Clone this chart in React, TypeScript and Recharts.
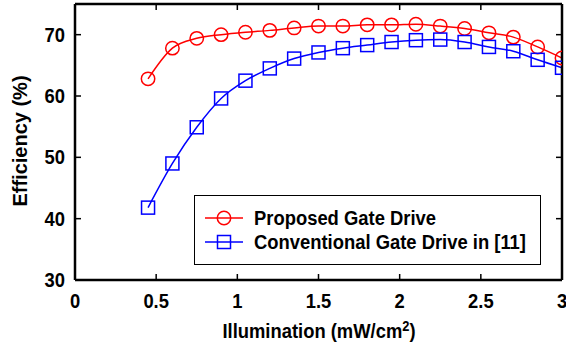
import React from "react"
import { LineChart, Line, XAxis, YAxis } from "recharts"

const illumination = [0.45, 0.6, 0.75, 0.9, 1.05, 1.2, 1.35, 1.5, 1.65, 1.8, 1.95, 2.1, 2.25, 2.4, 2.55, 2.7, 2.85, 3.0]
const proposed = [62.8, 67.8, 69.4, 70.0, 70.4, 70.7, 71.1, 71.4, 71.4, 71.6, 71.6, 71.7, 71.4, 71.0, 70.3, 69.6, 68.0, 66.2]
const conventional = [41.8, 49.0, 54.9, 59.6, 62.5, 64.5, 66.1, 67.1, 67.8, 68.3, 68.8, 69.1, 69.2, 68.8, 68.0, 67.3, 65.9, 64.6]
const xTicks = [0, 0.5, 1, 1.5, 2, 2.5, 3]
const yTicks = [30, 40, 50, 60, 70]

const data = illumination.map((x, i) => ({ x, proposed: proposed[i], conventional: conventional[i] }))

const FONT = "'Liberation Sans', Arial, sans-serif"
const RED = "#ff0000"
const BLUE = "#0000ff"
// the reference text looks a bit condensed horizontally
const SX = 0.92

// bold text squeezed horizontally around its anchor
const SqText = ({ x, y, anchor, size = 20, children }: any) => (
  <text
    transform={`translate(${x},${y}) scale(${SX},1)`}
    textAnchor={anchor}
    fontFamily={FONT}
    fontWeight="bold"
    fontSize={size}
    fill="#000"
  >
    {children}
  </text>
)

const BottomTick = (props: any) => {
  const { x, y, payload } = props
  return (
    <g>
      <line x1={x} y1={y} x2={x} y2={y - 6} stroke="#000" strokeWidth={1.5} />
      <SqText x={x} y={y + 28} anchor="middle">{payload.value}</SqText>
    </g>
  )
}

const TopTick = (props: any) => {
  const { x, y } = props
  return <line x1={x} y1={y} x2={x} y2={y + 6} stroke="#000" strokeWidth={1.5} />
}

const LeftTick = (props: any) => {
  const { x, y, payload } = props
  return (
    <g>
      <line x1={x} y1={y} x2={x + 6} y2={y} stroke="#000" strokeWidth={1.5} />
      <SqText x={x - 10} y={y + 7} anchor="end">{payload.value}</SqText>
    </g>
  )
}

const RightTick = (props: any) => {
  const { x, y } = props
  return <line x1={x} y1={y} x2={x - 6} y2={y} stroke="#000" strokeWidth={1.5} />
}

const Square = (props: any) => {
  const { cx, cy } = props
  if (cx == null || cy == null) return null
  return <rect x={cx - 6.5} y={cy - 6.5} width={13} height={13} fill="none" stroke={BLUE} strokeWidth={1.5} />
}

const Circle = (props: any) => {
  const { cx, cy } = props
  if (cx == null || cy == null) return null
  return <circle cx={cx} cy={cy} r={6.7} fill="none" stroke={RED} strokeWidth={1.5} />
}

const legendItems = [
  { label: "Proposed Gate Drive", color: RED, shape: "circle" },
  { label: "Conventional Gate Drive in [11]", color: BLUE, shape: "square" },
]

const LegendBox = () => (
  <div
    style={{
      position: "absolute",
      left: 194,
      top: 195,
      width: 347,
      height: 70,
      border: "1.5px solid #000",
      background: "#fff",
      boxSizing: "border-box",
      fontFamily: FONT,
      fontWeight: "bold",
      fontSize: 20,
      lineHeight: "22px",
    }}
  >
    {legendItems.map((item, i) => (
      <div key={item.label} style={{ position: "absolute", left: 9, top: 11 + i * 24, height: 22, display: "flex", alignItems: "center" }}>
        <svg width={40} height={22}>
          <line x1={1} y1={11} x2={39} y2={11} stroke={item.color} strokeWidth={1.5} />
          {item.shape === "circle" ? (
            <circle cx={20} cy={11} r={6.7} fill="none" stroke={item.color} strokeWidth={1.5} />
          ) : (
            <rect x={13.5} y={4.5} width={13} height={13} fill="none" stroke={item.color} strokeWidth={1.5} />
          )}
        </svg>
        <span
          style={{
            marginLeft: 10,
            whiteSpace: "nowrap",
            display: "inline-block",
            transform: `scaleX(${SX})`,
            transformOrigin: "left center",
          }}
        >
          {item.label}
        </span>
      </div>
    ))}
  </div>
)

export default function App() {
  return (
    <div style={{ position: "absolute", left: 0, top: 0, width: 566, height: 348, background: "#fff" }}>
      <LineChart width={566} height={348} data={data} margin={{ top: 3, right: 3, bottom: 67, left: 74 }}>
        <XAxis
          dataKey="x"
          type="number"
          domain={[0, 3]}
          ticks={xTicks}
          height={1}
          tickSize={0}
          tickMargin={0}
          tick={<BottomTick />}
          axisLine={{ stroke: "#000", strokeWidth: 2.5 }}
          allowDataOverflow
        />
        <XAxis
          xAxisId="top"
          orientation="top"
          dataKey="x"
          type="number"
          domain={[0, 3]}
          ticks={xTicks}
          height={1}
          tickSize={0}
          tickMargin={0}
          tick={<TopTick />}
          axisLine={{ stroke: "#000", strokeWidth: 2.5 }}
          allowDataOverflow
        />
        <YAxis
          type="number"
          domain={[30, 75]}
          ticks={yTicks}
          width={1}
          tickSize={0}
          tickMargin={0}
          tick={<LeftTick />}
          axisLine={{ stroke: "#000", strokeWidth: 2.5 }}
          allowDataOverflow
        />
        <YAxis
          yAxisId="right"
          orientation="right"
          type="number"
          domain={[30, 75]}
          ticks={yTicks}
          width={1}
          tickSize={0}
          tickMargin={0}
          tick={<RightTick />}
          axisLine={{ stroke: "#000", strokeWidth: 2.5 }}
          allowDataOverflow
        />
        <Line
          type="monotone"
          dataKey="proposed"
          stroke={RED}
          strokeWidth={1.5}
          dot={<Circle />}
          isAnimationActive={false}
        />
        <Line
          type="monotone"
          dataKey="conventional"
          stroke={BLUE}
          strokeWidth={1.5}
          dot={<Square />}
          isAnimationActive={false}
        />
        <text
          x={20}
          y={141}
          transform="rotate(-90 20 141)"
          textAnchor="middle"
          dominantBaseline="central"
          fontFamily={FONT}
          fontWeight="bold"
          fontSize={20}
          fill="#000"
        >
          Efficiency (%)
        </text>
        <SqText x={319} y={338} anchor="middle">
          Illumination (mW/cm<tspan fontSize={14} dy={-7}>2</tspan>
          <tspan dy={7}>)</tspan>
        </SqText>
      </LineChart>
      <LegendBox />
    </div>
  )
}
